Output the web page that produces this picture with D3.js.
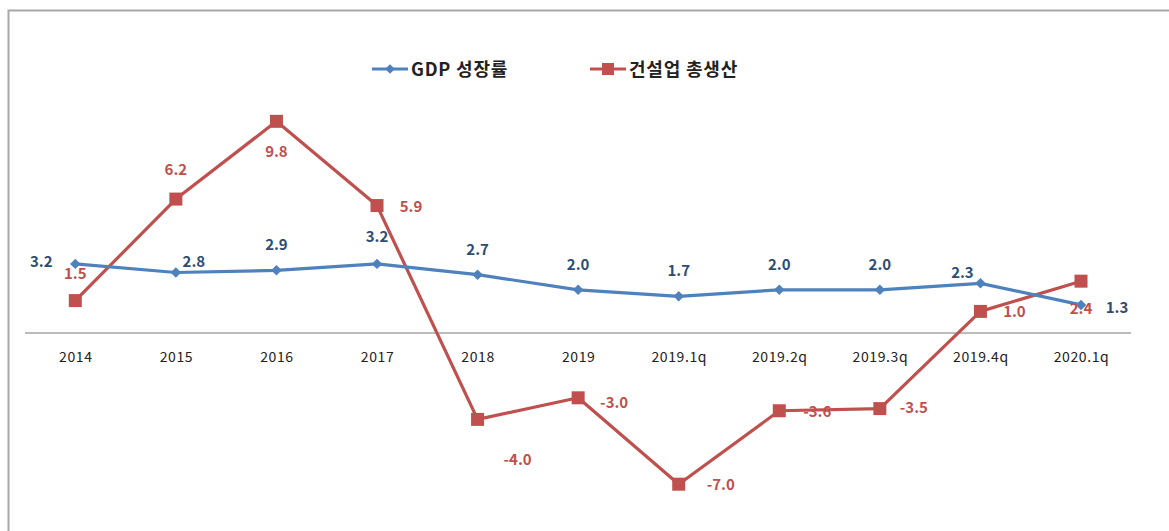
<!DOCTYPE html>
<html><head><meta charset="utf-8">
<script src="https://cdn.jsdelivr.net/npm/d3@7"></script>
<style>body{margin:0;background:#fff;}svg{display:block;}</style>
</head><body>
<svg id="c" width="1169" height="531"></svg>
<script>
const categories = ["2014","2015","2016","2017","2018","2019","2019.1q","2019.2q","2019.3q","2019.4q","2020.1q"];
const gdpGrowth = [3.2, 2.8, 2.9, 3.2, 2.7, 2.0, 1.7, 2.0, 2.0, 2.3, 1.3];
const constructionOutput = [1.5, 6.2, 9.8, 5.9, -4.0, -3.0, -7.0, -3.6, -3.5, 1.0, 2.4];
const seriesNames = ["GDP 성장률", "건설업 총생산"];

// label placement (dx, dy from point) — styling only
const gdpLabelPos = [[-34,3],[18,-6],[0,-20],[0,-22],[0,-20],[0,-20],[0,-20],[0,-20],[0,-20],[-18,-5],[36,8]];
const conLabelPos = [[0,-22],[0,-24],[0,36],[34,6],[40,46],[36,10],[42,6],[38,6],[34,4],[34,6],[0,33]];

const svg = d3.select("#c");
const font = "'Noto Sans CJK KR','Noto Sans',sans-serif";

svg.append("rect").attr("x",8.5).attr("y",10.5).attr("width",1200).attr("height",600)
  .attr("fill","none").attr("stroke","#a8a8a8").attr("stroke-width",2);

const x = d3.scalePoint().domain(categories).range([75.3, 1081]);
const y = d3.scaleLinear().domain([-8, 12]).range([505.8, 73.8]);

// category axis at zero
const axis = d3.axisBottom(x).tickSize(0).tickPadding(19);
const gAx = svg.append("g").attr("transform",`translate(0,${y(0)})`).call(axis);
gAx.select(".domain").remove();
gAx.append("line").attr("x1",25).attr("x2",1131).attr("y1",0).attr("y2",0)
  .attr("stroke","#a6a6a6").attr("stroke-width",1.3);
gAx.selectAll("text").attr("font-family",font).attr("font-size",14).attr("fill","#222").attr("font-weight",400)
  .attr("letter-spacing",0.6);

const blue = "#4f81bd", red = "#c0504d";
const line = d3.line().x((d,i)=>x(categories[i])).y(d=>y(d));

svg.append("path").datum(constructionOutput).attr("d",line).attr("fill","none")
  .attr("stroke",red).attr("stroke-width",3.2).attr("stroke-linejoin","round");
svg.append("path").datum(gdpGrowth).attr("d",line).attr("fill","none")
  .attr("stroke",blue).attr("stroke-width",3.2).attr("stroke-linejoin","round");

svg.selectAll("rect.sq").data(constructionOutput).join("rect").attr("class","sq")
  .attr("x",(d,i)=>x(categories[i])-6.5).attr("y",d=>y(d)-6.5)
  .attr("width",13).attr("height",13).attr("fill",red);
svg.selectAll("path.dm").data(gdpGrowth).join("path").attr("class","dm")
  .attr("d",d3.symbol(d3.symbolDiamond2 || d3.symbolDiamond, 70)())
  .attr("transform",(d,i)=>`translate(${x(categories[i])},${y(d)})`).attr("fill",blue);

svg.selectAll("text.gl").data(gdpGrowth).join("text").attr("class","gl")
  .attr("x",(d,i)=>x(categories[i])+gdpLabelPos[i][0]).attr("y",(d,i)=>y(d)+gdpLabelPos[i][1])
  .attr("text-anchor","middle").attr("font-family",font).attr("font-size",15).attr("font-weight",700)
  .attr("fill","#2c4d75").text(d=>d.toFixed(1));
svg.selectAll("text.cl").data(constructionOutput).join("text").attr("class","cl")
  .attr("x",(d,i)=>x(categories[i])+conLabelPos[i][0]).attr("y",(d,i)=>y(d)+conLabelPos[i][1])
  .attr("text-anchor","middle").attr("font-family",font).attr("font-size",15).attr("font-weight",700)
  .attr("fill",red).text(d=>d.toFixed(1));

// legend
const lg = [{name:seriesNames[0],c:blue,x:372,sym:"d"},{name:seriesNames[1],c:red,x:590,sym:"s"}];
lg.forEach(l=>{
  const g = svg.append("g").attr("transform",`translate(${l.x},69)`);
  g.append("line").attr("x1",0).attr("x2",36).attr("stroke",l.c).attr("stroke-width",3.2);
  if(l.sym==="d") g.append("path").attr("d",d3.symbol(d3.symbolDiamond2||d3.symbolDiamond,60)()).attr("transform","translate(18,0)").attr("fill",l.c);
  else g.append("rect").attr("x",12).attr("y",-6).attr("width",12).attr("height",12).attr("fill",l.c);
  g.append("text").attr("x",39).attr("y",7).attr("font-family",font).attr("font-size",18).attr("font-weight",700)
    .attr("letter-spacing",0.8).attr("fill","#222").text(l.name);
});
</script>
</body></html>
